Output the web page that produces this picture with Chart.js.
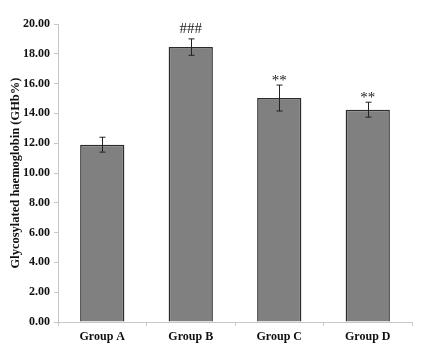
<!DOCTYPE html>
<html>
<head>
<meta charset="utf-8">
<script src="https://cdn.jsdelivr.net/npm/chart.js@4/dist/chart.umd.min.js"></script>
<style>
  html, body { margin: 0; padding: 0; background: #fff; }
  #wrap { width: 424px; height: 350px; }
</style>
</head>
<body>
<div id="wrap"><canvas id="barChart"></canvas></div>
<script>
// chart data
const groups = ['Group A', 'Group B', 'Group C', 'Group D'];
const ghbMeans = [11.9, 18.45, 15.03, 14.25];
const ghbErrors = [0.5, 0.55, 0.87, 0.5];
const marks = ['', '###', '**', '**'];
const yTicks = [0, 2, 4, 6, 8, 10, 12, 14, 16, 18, 20];

const serif = '"Liberation Serif", "Times New Roman", serif';

// draws the error bars and significance marks on top of the bars
const errorBarPlugin = {
    id: 'errorBars',
    afterDatasetsDraw(chart) {
        const ctx = chart.ctx;
        const y = chart.scales.y;
        const meta = chart.getDatasetMeta(0);
        ctx.save();
        ctx.strokeStyle = '#222';
        ctx.lineWidth = 1;
        meta.data.forEach((bar, i) => {
            const x = Math.round(bar.x) + 0.5;
            const top = y.getPixelForValue(ghbMeans[i] + ghbErrors[i]);
            const bottom = y.getPixelForValue(ghbMeans[i] - ghbErrors[i]);
            ctx.beginPath();
            ctx.moveTo(x, top);
            ctx.lineTo(x, bottom);
            ctx.moveTo(x - 3, top);
            ctx.lineTo(x + 3, top);
            ctx.moveTo(x - 3, bottom);
            ctx.lineTo(x + 3, bottom);
            ctx.stroke();
            if (marks[i]) {
                ctx.fillStyle = '#222';
                ctx.font = '15px ' + serif;
                ctx.textAlign = 'center';
                ctx.textBaseline = 'alphabetic';
                if (marks[i] === '###') {
                    ctx.fillText(marks[i], bar.x, top - 6);
                } else {
                    ctx.fillText(marks[i], bar.x, top);
                }
            }
        });
        ctx.restore();
    }
};

function createBarChart() {
    const ctx = document.getElementById('barChart').getContext('2d');
    new Chart(ctx, {
        type: 'bar',
        data: {
            labels: groups,
            datasets: [{
                data: ghbMeans,
                backgroundColor: '#808080',
                borderColor: '#2b2b2b',
                borderWidth: 1.5,
                barPercentage: 0.5,
                categoryPercentage: 1.0
            }]
        },
        options: {
            responsive: true,
            maintainAspectRatio: false,
            animation: false,
            layout: { padding: { top: 24, right: 12, left: 0, bottom: 0 } },
            plugins: {
                legend: { display: false },
                tooltip: { enabled: false }
            },
            scales: {
                x: {
                    grid: {
                        display: true,
                        offset: true,
                        drawOnChartArea: false,
                        drawTicks: true,
                        tickLength: 4,
                        color: '#c8c8c8'
                    },
                    border: { color: '#c8c8c8' },
                    ticks: {
                        color: '#111',
                        font: { family: serif, size: 12, weight: 'bold' },
                        padding: 4
                    },
                    afterFit(scale) { scale.height = 28; }
                },
                y: {
                    min: 0,
                    max: 20,
                    afterBuildTicks(scale) {
                        scale.ticks = yTicks.map(v => ({ value: v }));
                    },
                    grid: {
                        display: true,
                        drawOnChartArea: false,
                        drawTicks: true,
                        tickLength: 4,
                        color: '#c8c8c8'
                    },
                    border: { color: '#c8c8c8' },
                    ticks: {
                        color: '#111',
                        font: { family: serif, size: 12, weight: 'bold' },
                        padding: 4,
                        callback: v => v.toFixed(2)
                    },
                    title: {
                        display: true,
                        text: 'Glycosylated haemoglobin (GHb%)',
                        color: '#111',
                        font: { family: serif, size: 12.5, weight: 'bold' },
                        padding: { top: 8, bottom: 0 }
                    },
                    afterFit(scale) { scale.width = 58; }
                }
            }
        },
        plugins: [errorBarPlugin]
    });
}

document.addEventListener('DOMContentLoaded', createBarChart);
</script>
</body>
</html>
